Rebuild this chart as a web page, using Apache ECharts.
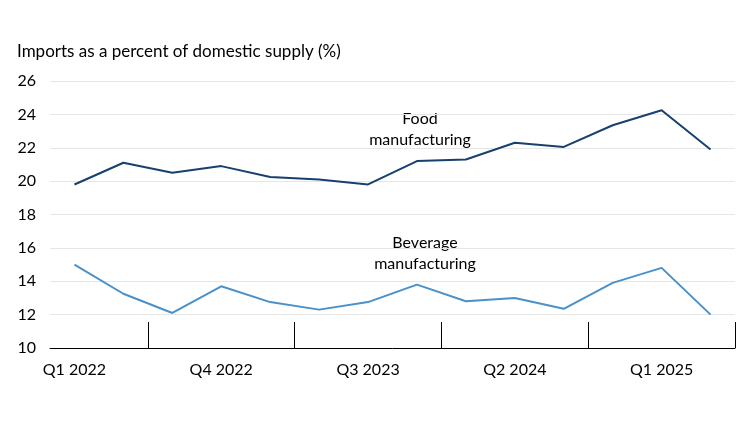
<!DOCTYPE html>
<html><head><meta charset="utf-8">
<script src="https://cdn.jsdelivr.net/npm/echarts@6/dist/echarts.min.js"></script>
<style>html,body{margin:0;padding:0;background:#fff}#c{width:750px;height:422px}</style>
</head><body><div id="c"></div>
<script>
const categories = ["Q1 2022","Q2 2022","Q3 2022","Q4 2022","Q1 2023","Q2 2023","Q3 2023","Q4 2023","Q1 2024","Q2 2024","Q3 2024","Q4 2024","Q1 2025","Q2 2025"];
const food = [19.8,21.1,20.5,20.9,20.25,20.1,19.8,21.2,21.3,22.3,22.05,23.35,24.25,21.9];
const beverage = [15.0,13.25,12.1,13.7,12.75,12.3,12.75,13.8,12.8,13.0,12.35,13.9,14.8,12.0];
const yTicks = [10,12,14,16,18,20,22,24,26];
const font = 'Lato, sans-serif';
const chart = echarts.init(document.getElementById('c'));
chart.setOption({
  animation:false,
  textStyle:{fontFamily:font},
  title:{text:'Imports as a percent of domestic supply (%)',left:12,top:38,textStyle:{fontSize:17,fontWeight:'normal',color:'#000',fontFamily:font}},
  grid:{left:50,right:15,top:81,bottom:74},
  xAxis:{type:'category',data:categories,boundaryGap:true,
    axisLine:{lineStyle:{color:'#000',width:1}},
    axisTick:{show:true,inside:true,interval:(i)=>i%3===2,length:26,lineStyle:{color:'#000'}},
    axisLabel:{interval:2,color:'#000',fontSize:16,margin:14,fontFamily:font}},
  yAxis:{type:'value',min:yTicks[0],max:yTicks[yTicks.length-1],interval:2,
    axisLine:{show:false},axisTick:{show:false},
    axisLabel:{color:'#000',fontSize:16,margin:14,fontFamily:font},
    splitLine:{lineStyle:{color:'#e6e6e6'}}},
  series:[
    {name:'Food manufacturing',type:'line',data:food,symbol:'none',lineStyle:{color:'#17406d',width:2}},
    {name:'Beverage manufacturing',type:'line',data:beverage,symbol:'none',lineStyle:{color:'#4a91c9',width:2}}
  ],
  graphic:[
    {type:'text',x:420,y:108,style:{text:'Food\nmanufacturing',align:'center',fontSize:16,lineHeight:21,fill:'#000',fontFamily:font}},
    {type:'text',x:425,y:232,style:{text:'Beverage\nmanufacturing',align:'center',fontSize:16,lineHeight:21,fill:'#000',fontFamily:font}}
  ]
});
</script></body></html>
